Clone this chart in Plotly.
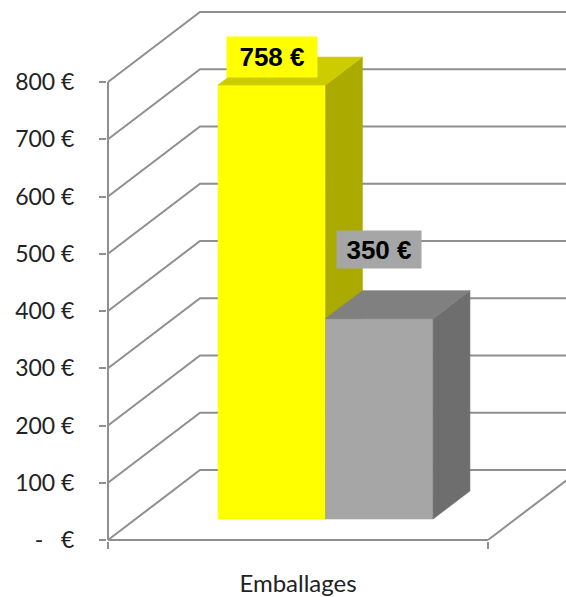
import plotly.graph_objects as go

# ---------------- data ----------------
categories = ["Emballages"]
series_names = ["Série 1", "Série 2"]
series_values = [758, 350]
y_tick_values = [0, 100, 200, 300, 400, 500, 600, 700, 800]
y_tick_labels = ["-\u00a0\u00a0\u00a0€", "100 €", "200 €", "300 €", "400 €",
                 "500 €", "600 €", "700 €", "800 €"]

# ---------------- style ----------------
front_colors = ["#FFFF00", "#A6A6A6"]
top_colors = ["#CCCC00", "#808080"]
side_colors = ["#AAAA00", "#6E6E6E"]
label_bg = ["#FFFF00", "#A6A6A6"]
label_yshift = [28, 69]
label_box_w = [80, 74]
label_box_h = [30, 27]

GRID = "#8f8f8f"
W, H = 566, 597
ML, MB = 107, 56
AXIS_PX_X, AXIS_PX_Y = 108, 540
PX_PER_X = 380.0          # pixels per category width on the front plane
PX_PER_V = 0.5725         # pixels per euro
DX = 92 / PX_PER_X        # depth offset (x units)
DY = 70 / PX_PER_V        # depth offset (value units)
D0, D1 = 0.3, 0.7         # bar depth span
BAR_W = 0.283

x_range = [(ML - AXIS_PX_X) / PX_PER_X, (W - AXIS_PX_X) / PX_PER_X]
y_range = [(AXIS_PX_Y - (H - MB)) / PX_PER_V, AXIS_PX_Y / PX_PER_V]

fig = go.Figure()

# walls gridlines (side wall diagonals + back wall horizontals)
gx, gy = [], []
for t in y_tick_values:
    gx += [0, DX, x_range[1] + 0.5, None]
    gy += [t, t + DY, t + DY, None]
# floor right edge
gx += [1, 1 + DX, None]
gy += [0, DY, None]
fig.add_trace(go.Scatter(x=gx, y=gy, mode="lines", line=dict(color=GRID, width=2),
                         hoverinfo="skip", showlegend=False))

# axis lines
fig.add_trace(go.Scatter(x=[0, 0, None, 0, 1], y=[y_tick_values[-1], 0, None, 0, 0],
                         mode="lines", line=dict(color=GRID, width=2),
                         hoverinfo="skip", showlegend=False))


def poly(xs, ys, color):
    fig.add_trace(go.Scatter(x=xs + [xs[0]], y=ys + [ys[0]], mode="lines", fill="toself",
                             fillcolor=color, line=dict(color=color, width=0.6),
                             hoverinfo="skip", showlegend=False))


n = len(series_values)
cat_center = 0.5
annotations = []
for i, v in enumerate(series_values):
    x0 = cat_center - n * BAR_W / 2 + i * BAR_W
    x1 = x0 + BAR_W
    # front face
    poly([x0 + D0 * DX, x1 + D0 * DX, x1 + D0 * DX, x0 + D0 * DX],
         [D0 * DY, D0 * DY, v + D0 * DY, v + D0 * DY], front_colors[i])
    # side face
    poly([x1 + D0 * DX, x1 + D1 * DX, x1 + D1 * DX, x1 + D0 * DX],
         [D0 * DY, D1 * DY, v + D1 * DY, v + D0 * DY], side_colors[i])
    # top face
    poly([x0 + D0 * DX, x1 + D0 * DX, x1 + D1 * DX, x0 + D1 * DX],
         [v + D0 * DY, v + D0 * DY, v + D1 * DY, v + D1 * DY], top_colors[i])
    annotations.append(dict(
        x=(x0 + x1) / 2 + D0 * DX, y=v + D0 * DY, xref="x", yref="y",
        text=f"<b>{v} €</b>", showarrow=False, yshift=label_yshift[i],
        bgcolor=label_bg[i], borderpad=5, width=label_box_w[i], height=label_box_h[i],
        font=dict(family="Liberation Sans", size=26, color="#000000"),
        xanchor="center", yanchor="middle"))

fig.update_layout(
    width=W, height=H,
    margin=dict(l=ML, r=0, t=0, b=MB, pad=0),
    paper_bgcolor="white", plot_bgcolor="white",
    showlegend=False,
    annotations=annotations,
    xaxis=dict(range=x_range, showgrid=False, zeroline=False, showline=False,
               tickmode="array", tickvals=[cat_center], ticktext=categories,
               ticks="", ticklabelstandoff=26,
               tickfont=dict(family="Lato", size=24, color="#222222"),
               minor=dict(tickmode="array", tickvals=[0, 1], ticks="outside",
                          ticklen=7, tickwidth=2, tickcolor=GRID, showgrid=False),
               fixedrange=True),
    yaxis=dict(range=y_range, showgrid=False, zeroline=False, showline=False,
               tickmode="array", tickvals=y_tick_values, ticktext=y_tick_labels,
               ticks="outside", ticklen=7, tickwidth=2, tickcolor=GRID,
               ticklabelstandoff=20,
               tickfont=dict(family="Lato", size=23, color="#222222"),
               fixedrange=True),
)

fig.write_html("out.html", config={"displayModeBar": False},
               post_script="document.body.style.margin='0';document.body.style.overflow='hidden';")
